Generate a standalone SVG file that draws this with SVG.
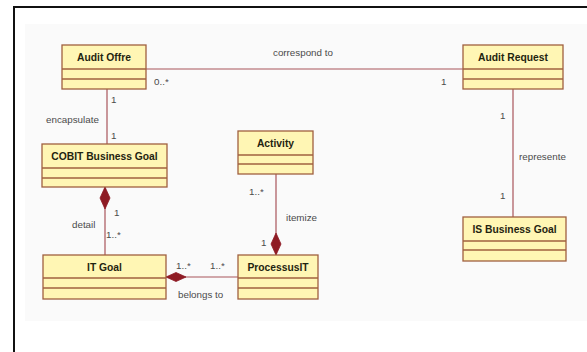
<svg xmlns="http://www.w3.org/2000/svg" width="587" height="352" viewBox="0 0 587 352">
<style>
.box{fill:#fff6b4;stroke:#a0603f;stroke-width:1.3}
.sep{stroke:#a0603f;stroke-width:1.3}
.name{font-family:"Liberation Sans",Arial,sans-serif;font-weight:bold;font-size:10.3px;fill:#1f2410;text-anchor:middle}
.lbl{font-family:"Liberation Sans",Arial,sans-serif;font-size:9.8px;fill:#4a4a4a}
.ln{stroke:#a8545a;stroke-width:1.2;fill:none}
.dia{fill:#8e1b24;stroke:#8e1b24;stroke-width:0.8}
</style>
<rect x="0" y="0" width="587" height="352" fill="#ffffff"/>
<rect x="25" y="24" width="562" height="297" fill="#fafafa"/>
<path d="M14 360 V7 H600" fill="none" stroke="#111" stroke-width="2"/>
<g id="connectors">
<line class="ln" x1="146" y1="69" x2="463" y2="69"/>
<text class="lbl" x="273" y="56">correspond to</text>
<text class="lbl" x="154" y="85">0..*</text>
<text class="lbl" x="441" y="85">1</text>
<line class="ln" x1="513" y1="89" x2="513" y2="217"/>
<text class="lbl" x="500" y="119">1</text>
<text class="lbl" x="519" y="160">represente</text>
<text class="lbl" x="500" y="199">1</text>
<line class="ln" x1="107" y1="89" x2="107" y2="144"/>
<text class="lbl" x="111" y="103">1</text>
<text class="lbl" x="46" y="123">encapsulate</text>
<text class="lbl" x="111" y="139">1</text>
<line class="ln" x1="105" y1="187" x2="105" y2="255"/>
<polygon class="dia" points="105,187 110,198 105,209 100,198"/>
<text class="lbl" x="114" y="216">1</text>
<text class="lbl" x="72" y="228">detail</text>
<text class="lbl" x="106" y="238">1..*</text>
<line class="ln" x1="276" y1="174" x2="276" y2="255"/>
<polygon class="dia" points="276,255 281,244 276,233 271,244"/>
<text class="lbl" x="249" y="195">1..*</text>
<text class="lbl" x="286" y="221">itemize</text>
<text class="lbl" x="261" y="246">1</text>
<line class="ln" x1="166" y1="277" x2="238" y2="277"/>
<polygon class="dia" points="166,277 176,272.5 186,277 176,281.5"/>
<text class="lbl" x="176" y="269">1..*</text>
<text class="lbl" x="210" y="269">1..*</text>
<text class="lbl" x="178" y="298">belongs to</text>
</g>
<g id="audit-offre">
<rect class="box" x="62" y="45" width="84" height="44"/>
<line class="sep" x1="62" y1="69" x2="146" y2="69"/>
<line class="sep" x1="62" y1="79" x2="146" y2="79"/>
<text class="name" x="104" y="61">Audit Offre</text>
</g>
<g id="audit-request">
<rect class="box" x="463" y="45" width="100" height="44"/>
<line class="sep" x1="463" y1="69" x2="563" y2="69"/>
<line class="sep" x1="463" y1="79" x2="563" y2="79"/>
<text class="name" x="513" y="61">Audit Request</text>
</g>
<g id="cobit-business-goal">
<rect class="box" x="42" y="144" width="125" height="43"/>
<line class="sep" x1="42" y1="168" x2="167" y2="168"/>
<line class="sep" x1="42" y1="178" x2="167" y2="178"/>
<text class="name" x="104.5" y="160">COBIT Business Goal</text>
</g>
<g id="activity">
<rect class="box" x="238" y="131" width="75" height="43"/>
<line class="sep" x1="238" y1="155" x2="313" y2="155"/>
<line class="sep" x1="238" y1="164" x2="313" y2="164"/>
<text class="name" x="275.5" y="147">Activity</text>
</g>
<g id="is-business-goal">
<rect class="box" x="463" y="217" width="103" height="44"/>
<line class="sep" x1="463" y1="241" x2="566" y2="241"/>
<line class="sep" x1="463" y1="250" x2="566" y2="250"/>
<text class="name" x="514.5" y="233">IS Business Goal</text>
</g>
<g id="it-goal">
<rect class="box" x="43" y="255" width="123" height="44"/>
<line class="sep" x1="43" y1="278" x2="166" y2="278"/>
<line class="sep" x1="43" y1="288" x2="166" y2="288"/>
<text class="name" x="104.5" y="271">IT Goal</text>
</g>
<g id="processusit">
<rect class="box" x="238" y="255" width="80" height="44"/>
<line class="sep" x1="238" y1="278" x2="318" y2="278"/>
<line class="sep" x1="238" y1="288" x2="318" y2="288"/>
<text class="name" x="278" y="271">ProcessusIT</text>
</g>
</svg>
